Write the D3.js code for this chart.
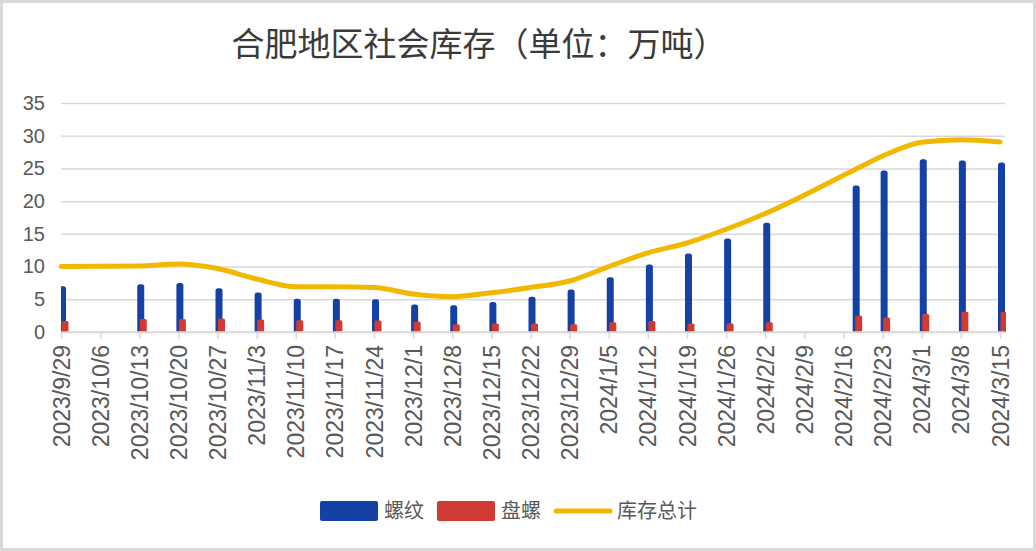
<!DOCTYPE html>
<html>
  <head>
    <meta charset="utf-8"/>
    <title>合肥地区社会库存</title>
    <script src="https://cdnjs.cloudflare.com/ajax/libs/d3/7.8.5/d3.min.js"></script>
    <style>
      body { margin: 0; background: #fff; }
      text { font-family: "Noto Sans CJK SC", "Liberation Sans", sans-serif; }
    </style>
  </head>
  <body>
    <script>

      var outerWidth = 1036;
      var outerHeight = 551;

      // weekly tick labels on the date axis
      var tickLabels = ["2023/9/29","2023/10/6","2023/10/13","2023/10/20","2023/10/27","2023/11/3",
        "2023/11/10","2023/11/17","2023/11/24","2023/12/1","2023/12/8","2023/12/15","2023/12/22",
        "2023/12/29","2024/1/5","2024/1/12","2024/1/19","2024/1/26","2024/2/2","2024/2/9",
        "2024/2/16","2024/2/23","2024/3/1","2024/3/8","2024/3/15"];

      // dates that have data
      var dates = ["2023/9/29","2023/10/13","2023/10/20","2023/10/27","2023/11/3","2023/11/10",
        "2023/11/17","2023/11/24","2023/12/1","2023/12/8","2023/12/15","2023/12/22","2023/12/29",
        "2024/1/5","2024/1/12","2024/1/19","2024/1/26","2024/2/2","2024/2/18","2024/2/23",
        "2024/3/1","2024/3/8","2024/3/15"];

      var rebar   = [7.0, 7.3, 7.5, 6.7, 6.05, 5.1, 5.1, 5.0, 4.2, 4.1, 4.6, 5.4, 6.5,
                     8.35, 10.3, 12.0, 14.3, 16.7, 22.4, 24.7, 26.4, 26.2, 25.9];
      var coil    = [1.7, 2.0, 2.0, 2.05, 1.9, 1.8, 1.8, 1.75, 1.6, 1.2, 1.3, 1.3, 1.2,
                     1.5, 1.7, 1.3, 1.3, 1.5, 2.5, 2.2, 2.75, 3.1, 3.05];
      var total   = [10.0, 10.1, 10.4, 9.7, 8.1, 6.9, 6.9, 6.8, 5.8, 5.4, 6.0, 6.8, 7.8,
                     10.0, 12.1, 13.6, 15.7, 18.1, 24.8, 26.9, 29.0, 29.4, 29.05];

      var yTicks = [0, 5, 10, 15, 20, 25, 30, 35];

      var parse = d3.timeParse("%Y/%m/%d");
      var fmt = d3.timeFormat("%Y/%-m/%-d");

      var data = dates.map(function (d, i){
        return { date: parse(d), rebar: rebar[i], coil: coil[i], total: total[i] };
      });

      var margin = { left: 61, right: 36, top: 103, bottom: 219 };
      var plotRight = outerWidth - margin.right;
      var plotBottom = outerHeight - margin.bottom;

      var svg = d3.select("body").append("svg")
        .attr("width", outerWidth)
        .attr("height", outerHeight);

      // chart border
      svg.append("rect")
        .attr("x", 1.5).attr("y", 1.5)
        .attr("width", outerWidth - 3).attr("height", outerHeight - 3)
        .attr("fill", "#fff").attr("stroke", "#d9d9d9").attr("stroke-width", 3);

      var xScale = d3.scaleTime()
        .domain([parse(tickLabels[0]), parse(tickLabels[tickLabels.length - 1])])
        .range([margin.left, plotRight]);
      var yScale = d3.scaleLinear().domain([0, 35]).range([plotBottom, margin.top]);

      // title
      svg.append("text")
        .attr("x", 479).attr("y", 56)
        .attr("text-anchor", "middle")
        .attr("font-size", 33)
        .attr("fill", "#3a3a3a")
        .text("合肥地区社会库存（单位：万吨）");

      // grid lines
      var yAxis = d3.axisLeft(yScale).tickValues(yTicks)
        .tickSize(-(plotRight + 5 - margin.left)).tickPadding(16);
      var gy = svg.append("g").attr("transform", "translate(" + margin.left + ",0)").call(yAxis);
      gy.select(".domain").remove();
      gy.selectAll(".tick line").attr("stroke", "#d9d9d9").attr("stroke-width", 1.5);
      gy.selectAll(".tick text")
        .attr("font-size", 20).attr("fill", "#595959")
        .style("font-family", "'Liberation Sans', sans-serif");

      // clip so the first bar is cut at the axis
      svg.append("clipPath").attr("id", "plot")
        .append("rect")
        .attr("x", margin.left).attr("y", 0)
        .attr("width", plotRight + 6 - margin.left).attr("height", plotBottom);

      var bars = svg.append("g").attr("clip-path", "url(#plot)");

      bars.selectAll(".rebar").data(data).enter().append("rect")
        .attr("class", "rebar")
        .attr("x", function (d){ return xScale(d.date) - 2; })
        .attr("width", 7)
        .attr("y", function (d){ return yScale(d.rebar); })
        .attr("height", function (d){ return plotBottom - yScale(d.rebar) + 3; })
        .attr("rx", 2.5)
        .attr("fill", "#1441a5");

      bars.selectAll(".coil").data(data).enter().append("rect")
        .attr("class", "coil")
        .attr("x", function (d){ return xScale(d.date) + 0.5; })
        .attr("width", 7)
        .attr("y", function (d){ return yScale(d.coil); })
        .attr("height", function (d){ return plotBottom - yScale(d.coil) + 3; })
        .attr("rx", 1.5)
        .attr("fill", "#d13a33");

      // x axis
      var xAxis = d3.axisBottom(xScale)
        .tickValues(tickLabels.map(parse))
        .tickFormat(fmt)
        .tickSize(7).tickPadding(6);
      var gx = svg.append("g").attr("transform", "translate(0," + plotBottom + ")").call(xAxis);
      gx.select(".domain").attr("stroke", "#d9d9d9").attr("stroke-width", 1.5)
        .attr("d", "M" + margin.left + ",0H" + (plotRight + 5));
      gx.selectAll(".tick line").attr("stroke", "#d9d9d9").attr("stroke-width", 1.5);
      gx.selectAll(".tick text")
        .attr("font-size", 23).attr("fill", "#595959")
        .style("font-family", "'Liberation Sans', sans-serif")
        .attr("text-anchor", "end")
        .attr("transform", "rotate(-90)")
        .attr("x", -13).attr("y", 0).attr("dy", "0.35em");

      // total line
      var line = d3.line()
        .x(function (d){ return xScale(d.date); })
        .y(function (d){ return yScale(d.total); })
        .curve(d3.curveMonotoneX);

      svg.append("path").datum(data)
        .attr("d", line)
        .attr("fill", "none")
        .attr("stroke", "#f2b800")
        .attr("stroke-width", 5)
        .attr("stroke-linecap", "round")
        .attr("stroke-linejoin", "round");

      // legend
      var legend = svg.append("g").attr("font-size", 20).attr("fill", "#595959");
      legend.append("rect").attr("x", 320).attr("y", 501).attr("width", 58).attr("height", 20)
        .attr("rx", 2).attr("fill", "#1441a5");
      legend.append("text").attr("x", 384).attr("y", 518).text("螺纹");
      legend.append("rect").attr("x", 437).attr("y", 501).attr("width", 58).attr("height", 20)
        .attr("rx", 2).attr("fill", "#d13a33");
      legend.append("text").attr("x", 501).attr("y", 518).text("盘螺");
      legend.append("line").attr("x1", 556).attr("x2", 610).attr("y1", 511).attr("y2", 511)
        .attr("stroke", "#f2b800").attr("stroke-width", 5).attr("stroke-linecap", "round");
      legend.append("text").attr("x", 617).attr("y", 518).text("库存总计");

    </script>
  </body>
</html>
